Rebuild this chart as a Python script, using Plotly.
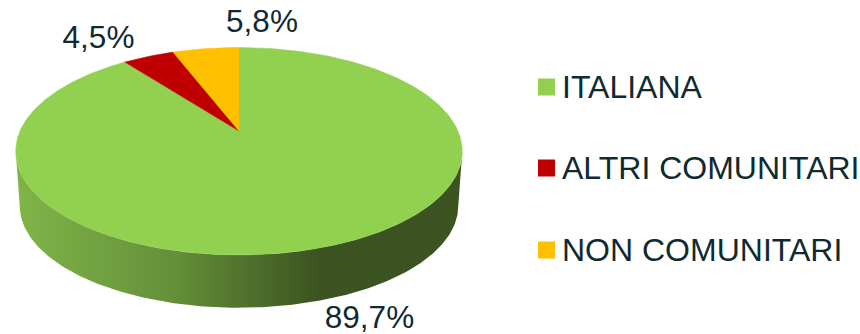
import numpy as np
import plotly.graph_objects as go

# Residence shares, clockwise from twelve o'clock
categories = ["ITALIANA", "ALTRI COMUNITARI", "NON COMUNITARI"]
shares = [89.7, 4.5, 5.8]
slice_colors = ["#92D050", "#C00000", "#FFC000"]

TEXT_COLOR = "#0F2A31"
FONT = "Liberation Sans, Arial, sans-serif"
LABEL_SIZE = 31.5
KEY_SIZE = 32

# Perspective disc: centre of the pie on screen, horizontal/vertical scale, foreshortening
CX, CY = 239.0, 131.0
SX, SY, PERSP = 219.0, 99.8, 0.195
# The base rim is the same disc, slightly smaller and lower
RIM_SCALE, RIM_DROP = 0.982, 55.0


def project(theta, scale=1.0, drop=0.0):
    """Map a clockwise angle from the top of the disc to screen coordinates."""
    x, z = np.sin(theta), np.cos(theta)
    w = 1 + PERSP * z
    return CX + scale * SX * x / w, CY + drop - scale * SY * z / w


fig = go.Figure()

# Visible side wall: front half of the base rim closed against the widest points of the top face
widest = np.arccos(-PERSP)
front = np.linspace(widest, 2 * np.pi - widest, 240)
rim_x, rim_y = project(front, RIM_SCALE, RIM_DROP)
top_x, top_y = project(front[::-1])
fig.add_trace(go.Scatter(
    x=np.r_[rim_x, top_x], y=np.r_[rim_y, top_y],
    mode="lines", line=dict(width=0), fill="toself",
    fillgradient=dict(type="horizontal", colorscale=[
        [0.0, "#80B548"], [0.35, "#65903A"], [0.68, "#3B5320"], [1.0, "#3C5421"]]),
    hoverinfo="skip", showlegend=False,
))

# Top face slices, derived from the shares
edges = np.cumsum([0.0] + shares) / sum(shares) * 2 * np.pi
for name, color, a0, a1 in zip(categories, slice_colors, edges[:-1], edges[1:]):
    arc = np.linspace(a0, a1, max(int((a1 - a0) * 80), 8))
    ax, ay = project(arc)
    fig.add_trace(go.Scatter(
        x=np.r_[CX, ax, CX], y=np.r_[CY, ay, CY],
        mode="lines", line=dict(width=0.5, color=color), fill="toself", fillcolor=color,
        name=name, showlegend=False, hoverinfo="name",
    ))

# Percentage labels beside their slices
label_x = [369.5, 98.5, 262]
label_y = [320, 40, 24]
fig.add_trace(go.Scatter(
    x=label_x, y=label_y, mode="text",
    text=[f"{v:.1f}%".replace(".", ",") for v in shares],
    textposition="middle center",
    textfont=dict(family=FONT, size=LABEL_SIZE, color=TEXT_COLOR),
    hoverinfo="skip", showlegend=False,
))

# Key on the right: square swatch followed by the category name
key_y = [87, 168, 250]
fig.add_trace(go.Scatter(
    x=[546.5] * 3, y=key_y, mode="markers",
    marker=dict(symbol="square", size=17, color=slice_colors, line=dict(width=0)),
    hoverinfo="skip", showlegend=False,
))
for name, y in zip(categories, key_y):
    fig.add_annotation(
        x=562, y=y, text=name, xanchor="left", yanchor="middle", showarrow=False,
        font=dict(family=FONT, size=KEY_SIZE, color=TEXT_COLOR), xshift=-2,
    )

fig.update_layout(
    width=860, height=334, margin=dict(l=0, r=0, t=0, b=0),
    paper_bgcolor="white", plot_bgcolor="white", showlegend=False,
    xaxis=dict(range=[0, 860], visible=False),
    yaxis=dict(range=[334, 0], visible=False),
)

fig.write_html("out.html", config=dict(displayModeBar=False))
